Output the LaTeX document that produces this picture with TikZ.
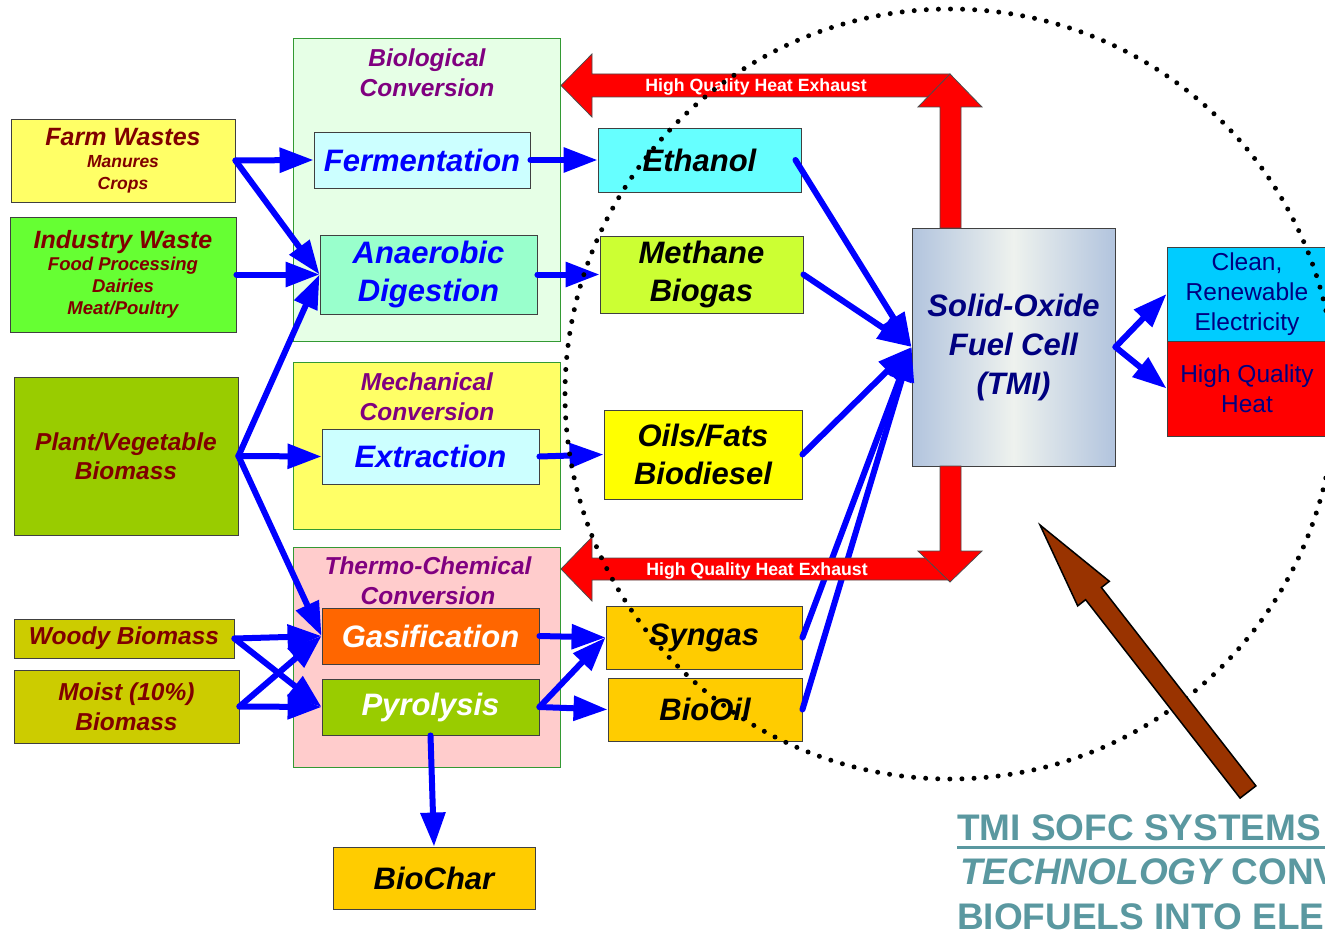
\documentclass[tikz,border=0pt]{standalone}
\usepackage{fontspec}
\setmainfont{Liberation Sans}
\usetikzlibrary{arrows.meta}

\definecolor{srcred}{HTML}{800000}
\definecolor{grpvio}{HTML}{800080}
\definecolor{grpgreen}{HTML}{339933}
\definecolor{navytext}{HTML}{000080}
\definecolor{flowblue}{HTML}{0000FF}
\definecolor{farmyel}{HTML}{FFFF66}
\definecolor{indgreen}{HTML}{66FF33}
\definecolor{plantgreen}{HTML}{99CC00}
\definecolor{woodyol}{HTML}{CCCC00}
\definecolor{biofill}{HTML}{E6FFE6}
\definecolor{mechfill}{HTML}{FFFF66}
\definecolor{thermfill}{HTML}{FFCCCC}
\definecolor{lightcyan}{HTML}{CCFFFF}
\definecolor{mint}{HTML}{99FFCC}
\definecolor{gasorange}{HTML}{FF6600}
\definecolor{ethcyan}{HTML}{66FFFF}
\definecolor{methlime}{HTML}{CCFF33}
\definecolor{oilyel}{HTML}{FFFF00}
\definecolor{prodorange}{HTML}{FFCC00}
\definecolor{elecblue}{HTML}{00CCFF}
\definecolor{heatred}{HTML}{FF0000}
\definecolor{sofcedge}{RGB}{178,196,222}
\definecolor{sofcmid}{RGB}{238,242,238}
\definecolor{arrowbrown}{HTML}{993300}
\definecolor{noteteal}{RGB}{90,152,160}

\begin{document}
\begin{tikzpicture}[x=1pt, y=-1pt,
  box/.style={draw=black!75, line width=0.9pt, inner sep=0pt, align=center},
  src/.style={box, text=srcred, font=\bfseries\itshape\fontsize{24.5}{29}\selectfont},
  group/.style={draw=grpgreen, line width=0.9pt, inner sep=0pt},
  grptitle/.style={text=grpvio, align=center, inner sep=0pt, font=\bfseries\itshape\fontsize{24.5}{30}\selectfont},
  proc/.style={box, text=flowblue, font=\bfseries\itshape\fontsize{31}{38}\selectfont},
  prod/.style={box, text=black, font=\bfseries\itshape\fontsize{31}{38}\selectfont},
  outbox/.style={box, text=navytext, font=\fontsize{24.5}{30}\selectfont},
  flow/.style={draw=flowblue, line width=6pt, line cap=round, -{Triangle[length=34pt,width=24pt]}},
  heatarrow/.style={fill=heatred, draw=black!70, line width=0.8pt},
  exhaust/.style={text=white, inner sep=0pt, font=\bfseries\fontsize{17.7}{20}\selectfont},
  note/.style={text=noteteal, inner sep=0pt, anchor=base west, font=\bfseries\fontsize{37}{44}\selectfont}]

\useasboundingbox (0,0) rectangle (1325,931);
\clip (0,0) rectangle (1325,931);

% conversion groups
\node[group, fill=biofill, minimum width=267pt, minimum height=303pt] (biogrp) at (426.5,189.5) {};
\node[group, fill=mechfill, minimum width=267pt, minimum height=167pt] (mechgrp) at (426.5,445.5) {};
\node[group, fill=thermfill, minimum width=267pt, minimum height=220pt] (thermgrp) at (426.5,657) {};
\node[grptitle] (biotitle) at (427,73) {Biological\\Conversion};
\node[grptitle] (mechtitle) at (427,397) {Mechanical\\Conversion};
\node[grptitle] (thermtitle) at (428,581) {Thermo-Chemical\\Conversion};

% feedstocks
\node[src, fill=farmyel, minimum width=224pt, minimum height=83pt, font=\bfseries\itshape\fontsize{17.5}{22}\selectfont] (farm) at (123,160.5) {{\fontsize{25}{25}\selectfont Farm Wastes}\\Manures\\Crops};
\node[src, fill=indgreen, minimum width=226pt, minimum height=115pt, font=\bfseries\itshape\fontsize{18.5}{22}\selectfont] (industry) at (123,274.5) {{\fontsize{25}{25}\selectfont Industry Waste}\\Food Processing\\Dairies\\Meat/Poultry};
\node[src, fill=plantgreen, minimum width=224pt, minimum height=158pt] (plant) at (126,456) {Plant/Vegetable\\Biomass};
\node[src, fill=woodyol, minimum width=220pt, minimum height=39pt] (woody) at (124,638.5) {Woody Biomass};
\node[src, fill=woodyol, minimum width=225pt, minimum height=73pt, font=\bfseries\itshape\fontsize{24.5}{30}\selectfont] (moist) at (126.5,706.5) {Moist (10\%)\\Biomass};

% processes
\node[proc, fill=lightcyan, minimum width=216pt, minimum height=56pt] (ferm) at (422,160) {Fermentation};
\node[proc, fill=mint, minimum width=217pt, minimum height=79pt] (anaer) at (428.5,274.5) {Anaerobic\\Digestion};
\node[proc, fill=lightcyan, minimum width=217pt, minimum height=55pt] (extr) at (430.5,456.5) {Extraction};
\node[proc, fill=gasorange, text=white, minimum width=217pt, minimum height=56pt] (gasif) at (430.5,636) {Gasification};
\node[proc, fill=plantgreen, text=white, minimum width=217pt, minimum height=56pt] (pyro) at (430.5,707) {Pyrolysis};

% products
\node[prod, fill=ethcyan, minimum width=203pt, minimum height=64pt] (ethanol) at (699.5,160) {Ethanol};
\node[prod, fill=methlime, minimum width=203pt, minimum height=77pt] (methane) at (701.5,274.5) {Methane\\Biogas};
\node[prod, fill=oilyel, minimum width=198pt, minimum height=89pt] (oils) at (703,454.5) {Oils/Fats\\Biodiesel};
\node[prod, fill=prodorange, minimum width=196pt, minimum height=63pt] (syngas) at (704,637.5) {Syngas};
\node[prod, fill=prodorange, minimum width=194pt, minimum height=63pt] (biooil) at (705,709.5) {BioOil};
\node[prod, fill=prodorange, minimum width=202pt, minimum height=62pt] (biochar) at (434,878) {BioChar};

% fuel cell and outputs
\node[box, text=navytext, font=\bfseries\itshape\fontsize{31}{39}\selectfont, left color=sofcedge, right color=sofcedge, middle color=sofcmid, minimum width=203pt, minimum height=238pt] (sofc) at (1013.5,347) {Solid-Oxide\\Fuel Cell\\(TMI)};
\node[outbox, fill=elecblue, minimum width=160pt, minimum height=94pt] (elec) at (1247,294) {Clean,\\Renewable\\Electricity};
\node[outbox, fill=heatred, minimum width=160pt, minimum height=95pt] (heat) at (1247,388.5) {High Quality\\Heat};

\draw[flow] (farm.east) -- (ferm.west);
\draw[flow] (farm.east) -- (anaer.west);
\draw[flow] (industry.east) -- (anaer.west);
\draw[flow] (plant.east) -- (anaer.west);
\draw[flow] (plant.east) -- (extr.west);
\draw[flow] (plant.east) -- (gasif.west);
\draw[flow] (woody.east) -- (gasif.west);
\draw[flow] (woody.east) -- (pyro.west);
\draw[flow] (moist.east) -- (gasif.west);
\draw[flow] (moist.east) -- (pyro.west);
\draw[flow] (ferm.east) -- (ethanol.west);
\draw[flow] (anaer.east) -- (methane.west);
\draw[flow] (extr.east) -- (oils.west);
\draw[flow] (gasif.east) -- (syngas.west);
\draw[flow] (pyro.east) -- (syngas.west);
\draw[flow] (pyro.east) -- (biooil.west);
\draw[flow] (pyro.south) -- (biochar.north);
\draw[flow] ([xshift=-6pt]ethanol.east) -- (sofc.west);
\draw[flow] (methane.east) -- (sofc.west);
\draw[flow] (oils.east) -- (sofc.west);
\draw[flow] (syngas.east) -- (sofc.west);
\draw[flow] (biooil.east) -- (sofc.west);
\draw[flow] (sofc.east) -- (elec.west);
\draw[flow] (sofc.east) -- (heat.west);

% heat exhaust
\filldraw[heatarrow] (561,85.5) -- (592,54) -- (592,74) -- (950,74) -- (950,97) -- (592,97) -- (592,117) -- cycle;
\filldraw[heatarrow] (950,74) -- (982,107) -- (961,107) -- (961,228) -- (940,228) -- (940,107) -- (918,107) -- cycle;
\filldraw[heatarrow] (561,569) -- (592,537) -- (592,558) -- (950,558) -- (950,580) -- (592,580) -- (592,601) -- cycle;
\filldraw[heatarrow] (950,582) -- (918,551) -- (940,551) -- (940,466) -- (961,466) -- (961,551) -- (982,551) -- cycle;
\node[exhaust] (exhtop) at (756,87) {High Quality Heat Exhaust};
\node[exhaust] (exhbot) at (757,571) {High Quality Heat Exhaust};

% TMI system boundary
\draw[line width=5pt, line cap=round, dash pattern=on 0pt off 12.1pt] (950,394) circle[radius=385];

\filldraw[fill=arrowbrown, draw=black, line width=1.5pt] (1040,525) -- (1109.3,581.3) -- (1101.4,587.5) -- (1255.9,785.9) -- (1240.1,798.1) -- (1085.6,599.7) -- (1077.7,605.9) -- cycle;

\node[note] (noteA) at (957,840) {TMI SOFC SYSTEMS};
\draw[noteteal, line width=3pt] ([yshift=-7pt]noteA.base west) -- ++(368,0);
\node[note] (noteB) at (960,884) {\itshape TECHNOLOGY\upshape{} CONV};
\node[note] (noteC) at (957,929) {BIOFUELS INTO ELE};

\end{tikzpicture}
\end{document}
